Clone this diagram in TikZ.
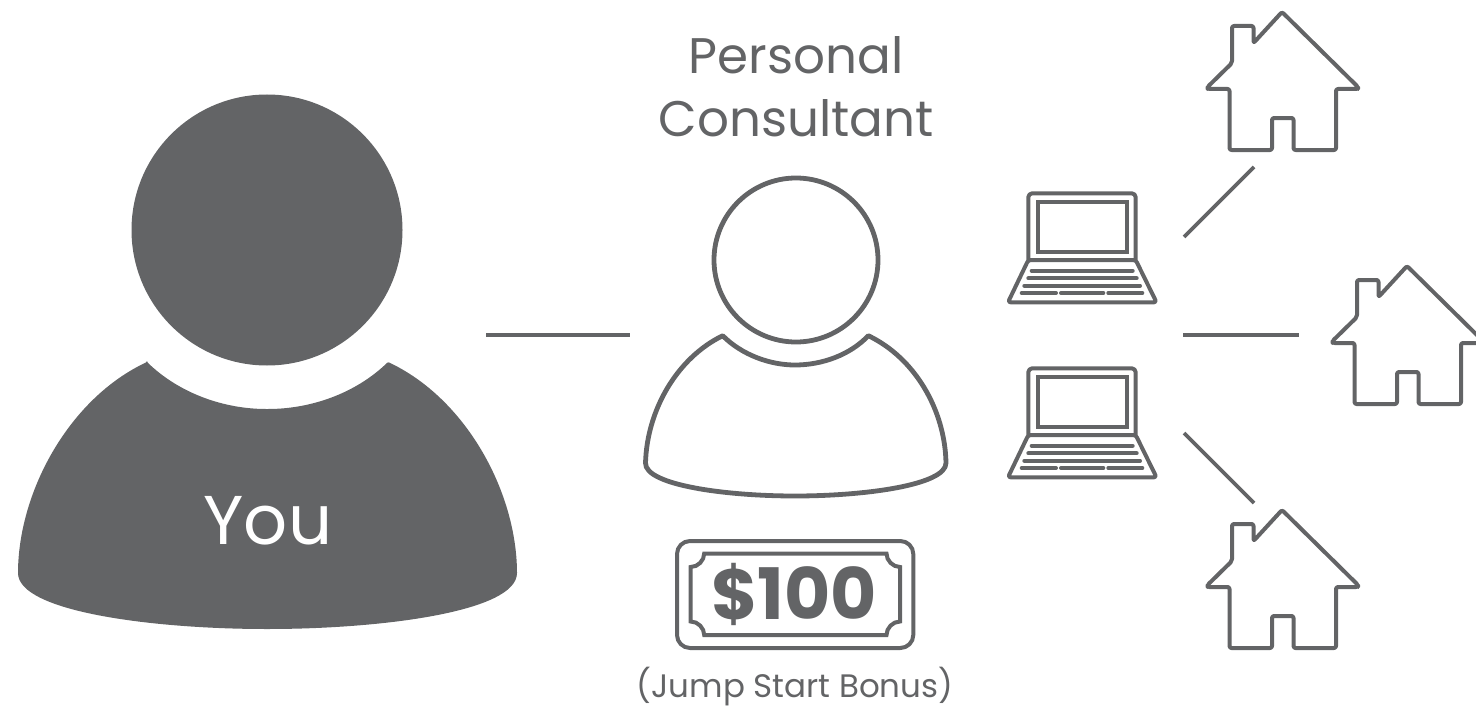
\documentclass[tikz,border=0pt]{standalone}
\usepackage{fontspec}
\setmainfont{Poppins}
\definecolor{ink}{HTML}{636466}
\tikzset{
  icon/.style={draw=ink,line width=4.8pt,line join=round,line cap=round},
  thin icon/.style={draw=ink,line width=4pt,line join=round,line cap=round},
  link/.style={draw=ink,line width=3.8pt},
  lbl/.style={text=ink,inner sep=0pt,align=center,anchor=center},
  house/.pic={
    \draw[thin icon,rounded corners=2pt] (0,0) -- (76,75) -- (76,77) -- (54,77) -- (54,138) -- (11.5,138) -- (11.5,106) -- (-10,106) -- (-10,138) -- (-52.5,138) -- (-52.5,77) -- (-74.5,77) -- (-74.5,75) -- (-50,51) -- (-50,14) -- (-28.5,14) -- (-28.5,31) -- cycle;
  },
  laptop/.pic={
    \draw[thin icon,rounded corners=4pt] (1028.3,260) -- (1028.3,193.3) -- (1135.7,193.3) -- (1135.7,260);
    \draw[thin icon,line join=miter] (1037.7,201.7) rectangle (1126.7,251.7);
    \draw[thin icon,rounded corners=2.5pt] (1028.3,260) -- (1135.7,260) -- (1156.5,302.3) -- (1008,302.3) -- cycle;
    \draw[thin icon] (1031.7,270.7) -- (1132.7,270.7) (1028.3,278.3) -- (1136.7,278.3) (1024.3,285.7) -- (1140,285.7)
      (1021.7,293) -- (1056,293) (1061,293) -- (1103.3,293) (1108.3,293) -- (1142.3,293);
  }
}
\begin{document}
\begin{tikzpicture}[x=1pt,y=-1pt]
\useasboundingbox (0,0) rectangle (1476,709);
% big person
\fill[ink] (267,230) circle (135.5);
\fill[ink,rounded corners=1pt] (147,362) .. controls (180,394) and (225,409) .. (267,409) .. controls (310,409) and (355,394) .. (388,362)
  .. controls (465,398) and (516,490) .. (517,572) .. controls (517,612) and (380,629) .. (267,629)
  .. controls (155,629) and (18,612) .. (18,572) .. controls (19,490) and (70,398) .. (147,362) -- cycle;
\node[lbl,text=white,font=\fontsize{69}{84}\selectfont] (you) at (268,521) {You};
% consultant
\node[lbl,font=\fontsize{50}{63}\selectfont] (title) at (796,87) {Personal\\Consultant};
\draw[icon] (796,260) circle (82);
\draw[icon] (722.7,335.7) .. controls (742,355) and (770,365) .. (795,365) .. controls (822,365) and (850,355) .. (868.3,335.7)
  .. controls (915,358) and (945,410) .. (946,463) .. controls (946,485) and (865,496) .. (795,496)
  .. controls (725,496) and (645,485) .. (645.5,463) .. controls (647,410) and (677,358) .. (722.7,335.7) -- cycle;
% banknote
\draw[thin icon,rounded corners=13pt] (677,541) rectangle (913.3,648);
\draw[thin icon,line join=miter] (690.7,567) .. controls (698,567) and (704.2,560.5) .. (704.2,553.5) -- (886.5,553.5)
  .. controls (886.5,560.5) and (892.7,567) .. (900,567) -- (900,621.5)
  .. controls (892.7,621.5) and (886.5,628) .. (886.5,635) -- (704.2,635)
  .. controls (704.2,628) and (698,621.5) .. (690.7,621.5) -- cycle;
\node[lbl,font=\fontsize{71}{85}\selectfont\bfseries] (amount) at (794,594) {\$100};
\node[lbl,font=\fontsize{32.5}{39}\selectfont] (bonus) at (795,687) {(Jump Start Bonus)};
% laptops
\pic at (0,0) {laptop};
\pic at (0,175) {laptop};
% houses
\pic at (1282,12) {house};
\pic at (1407,266) {house};
\pic at (1282,510) {house};
% connectors
\coordinate (a1) at (486,335); \coordinate (a2) at (630,335);
\coordinate (b1) at (1183,335); \coordinate (b2) at (1299,335);
\coordinate (c1) at (1184,237); \coordinate (c2) at (1254,167);
\coordinate (d1) at (1184,433); \coordinate (d2) at (1254,503);
\draw[link] (a1) -- (a2);
\draw[link] (b1) -- (b2);
\draw[link] (c1) -- (c2);
\draw[link] (d1) -- (d2);
\end{tikzpicture}
\end{document}
